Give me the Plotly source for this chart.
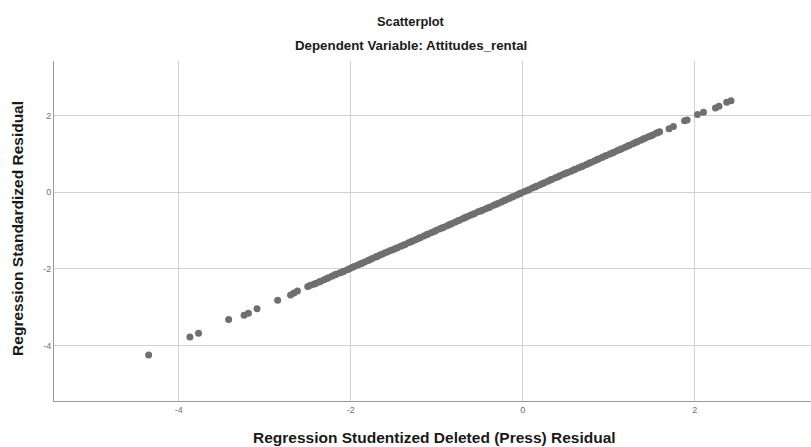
import plotly.graph_objects as go

# Regression residuals: studentized deleted (x) vs standardized (y)
deleted_resid = [
    -4.35, -3.87, -3.77, -3.42, -3.24, -3.19, -3.09, -2.85, -2.70, -2.66, -2.62,
    -2.50, -2.47, -2.43, -2.41, -2.37, -2.35, -2.31, -2.28, -2.26, -2.22, -2.19,
    -2.17, -2.13, -2.10, -2.08, -2.04, -2.01, -1.98, -1.96, -1.92, -1.89, -1.87,
    -1.84, -1.80, -1.78, -1.75, -1.71, -1.69, -1.66, -1.63, -1.60, -1.57, -1.54,
    -1.51, -1.48, -1.46, -1.42, -1.39, -1.37, -1.33, -1.30, -1.28, -1.24, -1.21,
    -1.19, -1.15, -1.12, -1.10, -1.06, -1.03, -1.01, -0.97, -0.94, -0.92, -0.88,
    -0.85, -0.83, -0.79, -0.76, -0.74, -0.70, -0.67, -0.65, -0.61, -0.58, -0.56,
    -0.52, -0.49, -0.47, -0.43, -0.40, -0.38, -0.34, -0.31, -0.29, -0.25, -0.22,
    -0.20, -0.16, -0.13, -0.11, -0.07, -0.04, -0.02, 0.02, 0.05, 0.07, 0.11,
    0.14, 0.16, 0.20, 0.23, 0.25, 0.29, 0.32, 0.34, 0.38, 0.41, 0.43, 0.47,
    0.50, 0.52, 0.56, 0.59, 0.61, 0.65, 0.68, 0.70, 0.74, 0.77, 0.79, 0.83,
    0.86, 0.88, 0.92, 0.95, 0.97, 1.01, 1.04, 1.06, 1.10, 1.13, 1.15, 1.19,
    1.22, 1.24, 1.28, 1.31, 1.33, 1.37, 1.40, 1.42, 1.46, 1.49, 1.51, 1.55,
    1.57, 1.59, 1.70, 1.75, 1.88, 1.91, 2.03, 2.10, 2.24, 2.28, 2.37, 2.42,
]
standardized_resid = [
    -4.25, -3.78, -3.68, -3.32, -3.21, -3.16, -3.04, -2.82, -2.68, -2.63, -2.58,
    -2.46, -2.43, -2.40, -2.38, -2.34, -2.32, -2.28, -2.25, -2.23, -2.19, -2.16,
    -2.14, -2.11, -2.08, -2.06, -2.02, -1.99, -1.96, -1.94, -1.90, -1.87, -1.85,
    -1.82, -1.78, -1.76, -1.73, -1.69, -1.67, -1.64, -1.61, -1.58, -1.55, -1.52,
    -1.50, -1.47, -1.45, -1.41, -1.38, -1.36, -1.32, -1.29, -1.27, -1.23, -1.20,
    -1.18, -1.14, -1.11, -1.09, -1.05, -1.02, -1.00, -0.96, -0.93, -0.91, -0.87,
    -0.84, -0.82, -0.78, -0.75, -0.73, -0.69, -0.66, -0.64, -0.60, -0.57, -0.55,
    -0.51, -0.49, -0.47, -0.43, -0.40, -0.38, -0.34, -0.31, -0.29, -0.25, -0.22,
    -0.20, -0.16, -0.13, -0.11, -0.07, -0.04, -0.02, 0.02, 0.05, 0.07, 0.11,
    0.14, 0.16, 0.20, 0.23, 0.25, 0.29, 0.32, 0.34, 0.38, 0.41, 0.43, 0.47,
    0.50, 0.52, 0.55, 0.58, 0.60, 0.64, 0.67, 0.69, 0.73, 0.76, 0.78, 0.82,
    0.85, 0.87, 0.91, 0.94, 0.96, 1.00, 1.03, 1.05, 1.09, 1.12, 1.14, 1.18,
    1.21, 1.23, 1.27, 1.30, 1.32, 1.36, 1.39, 1.41, 1.45, 1.48, 1.50, 1.54,
    1.56, 1.58, 1.66, 1.72, 1.87, 1.89, 2.03, 2.09, 2.20, 2.25, 2.35, 2.39,
]
tick_vals = [-4, -2, 0, 2]
tick_text = ["-4", "-2", "0", "2"]

FONT = "Arial, Liberation Sans, sans-serif"
GRID = "#d2d2d2"
AXIS = "#9a9a9a"
TEXT = "#1a1a1a"

fig = go.Figure(
    go.Scatter(
        x=deleted_resid,
        y=standardized_resid,
        mode="markers",
        marker=dict(size=7, color="#6f6f6f", line=dict(width=0)),
        hoverinfo="x+y",
    )
)

axis_common = dict(
    tickvals=tick_vals,
    ticktext=tick_text,
    tickfont=dict(family=FONT, size=9, color="#707070"),
    showgrid=True,
    gridcolor=GRID,
    gridwidth=1,
    zeroline=False,
    showline=True,
    linecolor=AXIS,
    linewidth=1,
    ticks="",
)

fig.update_xaxes(range=[-5.45, 3.35], **axis_common)
fig.update_yaxes(range=[-5.45, 3.43], **axis_common)

fig.update_layout(
    width=811,
    height=447,
    margin=dict(l=54, r=0, t=61, b=46),
    paper_bgcolor="white",
    plot_bgcolor="white",
    showlegend=False,
    annotations=[
        dict(text="<b>Scatterplot</b>", xref="paper", yref="paper",
             x=0.4716, y=1.1176, showarrow=False,
             font=dict(family=FONT, size=12.8, color=TEXT),
             xanchor="center", yanchor="middle"),
        dict(text="<b>Dependent Variable: Attitudes_rental</b>", xref="paper", yref="paper",
             x=0.4716, y=1.047, showarrow=False,
             font=dict(family=FONT, size=13.3, color=TEXT),
             xanchor="center", yanchor="middle"),
        dict(text="<b>Regression Studentized Deleted (Press) Residual</b>",
             xref="paper", yref="paper", x=0.503, y=-0.106, showarrow=False,
             font=dict(family=FONT, size=15.5, color=TEXT),
             xanchor="center", yanchor="middle"),
        dict(text="<b>Regression Standardized Residual</b>",
             xref="paper", yref="paper", x=-0.0476, y=0.509, showarrow=False,
             textangle=-90,
             font=dict(family=FONT, size=15.5, color=TEXT),
             xanchor="center", yanchor="middle"),
    ],
)

fig.write_html("out.html")
